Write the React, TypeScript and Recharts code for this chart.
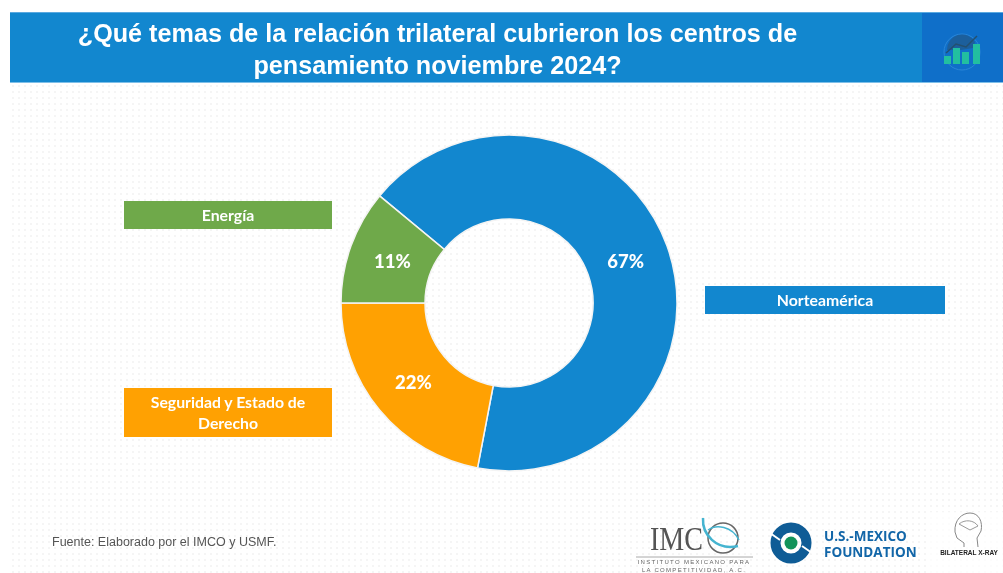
import { PieChart, Pie, Cell } from "recharts";

const categories = ["Norteamérica", "Seguridad y Estado de Derecho", "Energía"];
const shares = [67, 22, 11];
const sliceColors = ["#1287cf", "#ffa102", "#6fa94a"];

const chartData = categories.map((name, i) => ({ name, value: shares[i] }));

const RAD = Math.PI / 180;

function sliceLabel({ cx, cy, midAngle, innerRadius, outerRadius, value }: any) {
  const r = (innerRadius + outerRadius) / 2 - 2;
  return (
    <text
      x={cx + r * Math.cos(-midAngle * RAD)}
      y={cy + r * Math.sin(-midAngle * RAD)}
      fill="#fff"
      textAnchor="middle"
      dominantBaseline="central"
      style={{ fontFamily: "Lato, sans-serif", fontWeight: 900, fontSize: 18.5 }}
    >
      {value}%
    </text>
  );
}

function LabelBox(props: { x: number; y: number; w: number; h: number; color: string; text: string }) {
  return (
    <div
      style={{
        position: "absolute",
        left: props.x,
        top: props.y,
        width: props.w,
        height: props.h,
        background: props.color,
        color: "#fff",
        display: "flex",
        alignItems: "center",
        justifyContent: "center",
        textAlign: "center",
        fontFamily: "Lato, sans-serif",
        fontWeight: 700,
        fontSize: 15.8,
        lineHeight: "21px",
        padding: "0 20px 2px",
        boxSizing: "border-box",
      }}
    >
      {props.text}
    </div>
  );
}

function Logos() {
  return (
    <svg width={1003} height={573} style={{ position: "absolute", left: 0, top: 0 }}>
      {/* small icon in the header */}
      <circle cx={962} cy={52} r={18} fill="none" stroke="#2a86d8" />
      <path d="M947 50 a15 15 0 0 1 28 -8 l-2 6 l-12 2 z" fill="#1c5f9c" />
      <rect x={944} y={56} width={7} height={8} fill="#22bfa0" />
      <rect x={953} y={48} width={7} height={16} fill="#22bfa0" />
      <rect x={962} y={52} width={7} height={12} fill="#22bfa0" />
      <rect x={973} y={44} width={7} height={20} fill="#22bfa0" />
      <path d="M946 53 L956 44 L966 47 L977 36" fill="none" stroke="#24506f" strokeWidth={1.5} />

      {/* IMCO */}
      <text
        x={650}
        y={550}
        fill="#555"
        textLength={53}
        lengthAdjust="spacingAndGlyphs"
        style={{ fontFamily: "Liberation Serif", fontSize: 33 }}
      >
        IMC
      </text>
      <circle cx={723} cy={538} r={15} fill="none" stroke="#666" strokeWidth={1.5} />
      <path d="M703 518 C702 534 716 551 738 546" fill="none" stroke="#45b4d0" strokeWidth={2.5} />
      <path d="M708 530 C716 524 732 526 739 540" fill="none" stroke="#45b4d0" strokeWidth={1.5} />
      <line x1={636} y1={557} x2={753} y2={557} stroke="#aaa" />
      <text x={694} y={564} fill="#666" textAnchor="middle" style={{ fontFamily: "Liberation Sans", fontSize: 6, letterSpacing: 1.3 }}>
        INSTITUTO MEXICANO PARA
      </text>
      <text x={694} y={572} fill="#666" textAnchor="middle" style={{ fontFamily: "Liberation Sans", fontSize: 6, letterSpacing: 1.3 }}>
        LA COMPETITIVIDAD, A.C.
      </text>

      {/* US-Mexico Foundation */}
      <circle cx={791} cy={543} r={15.5} fill="none" stroke="#0f5c96" strokeWidth={10} />
      <circle cx={791} cy={543} r={6.5} fill="#12935a" />
      <path d="M770 533 L780 540 M812 553 L802 546" stroke="#fff" strokeWidth={2} />
      <text x={824} y={541} fill="#1266a8" style={{ fontFamily: "Open Sans", fontWeight: 700, fontSize: 13.5 }}>
        U.S.-MEXICO
      </text>
      <text x={824} y={557} fill="#1266a8" style={{ fontFamily: "Open Sans", fontWeight: 700, fontSize: 13.5 }}>
        FOUNDATION
      </text>

      {/* Bilateral X-Ray */}
      <rect x={926} y={512} width={77} height={61} fill="#fff" opacity={0.7} />
      <path
        d="M955 532 C954 520 962 513 970 513 C979 513 983 522 981 531 L977 538 L978 547 M955 532 L957 538 L964 543 L964 547"
        fill="none"
        stroke="#888"
        strokeWidth={1}
      />
      <path d="M959 524 C965 519 974 520 978 526 L970 530 Z" fill="none" stroke="#999" strokeWidth={1} />
      <text x={969} y={555} fill="#222" textAnchor="middle" style={{ fontFamily: "Liberation Sans", fontWeight: 700, fontSize: 6.5 }}>
        BILATERAL X-RAY
      </text>
    </svg>
  );
}

export default function App() {
  return (
    <div
      style={{
        position: "absolute",
        left: 0,
        top: 0,
        width: 1003,
        height: 573,
        overflow: "hidden",
        background: "#fff",
        filter: "blur(0.45px)",
      }}
    >
      {/* dotted slide background */}
      <div
        style={{
          position: "absolute",
          left: 10,
          top: 83,
          width: 993,
          height: 490,
          backgroundImage: "radial-gradient(#f5f5f5 1.1px, transparent 1.4px)",
          backgroundSize: "6px 6px",
        }}
      />

      {/* header band */}
      <div style={{ position: "absolute", left: 10, top: 12, width: 993, height: 71, background: "#1287cf" }} />
      <div style={{ position: "absolute", left: 922, top: 12, width: 81, height: 71, background: "#0f6fc9" }} />
      <div style={{ position: "absolute", left: 10, top: 12, width: 993, height: 1, background: "#5aa9e0" }} />
      <div style={{ position: "absolute", left: 10, top: 82, width: 993, height: 1, background: "#7fbfe8" }} />
      <div
        style={{
          position: "absolute",
          left: 10,
          top: 17,
          width: 855,
          textAlign: "center",
          color: "#fff",
          fontFamily: "Liberation Sans, Arial, sans-serif",
          fontWeight: 700,
          fontSize: 25.2,
          lineHeight: "32px",
        }}
      >
        ¿Qué temas de la relación trilateral cubrieron los centros de
        <br />
        pensamiento noviembre 2024?
      </div>

      <div style={{ position: "absolute", left: 0, top: 0 }}>
        <PieChart width={1003} height={573} margin={{ top: 0, right: 0, bottom: 0, left: 0 }}>
          <Pie
            data={chartData}
            dataKey="value"
            nameKey="name"
            cx={509}
            cy={303}
            innerRadius={84}
            outerRadius={168}
            startAngle={140.4}
            endAngle={-219.6}
            stroke="#f4f4f4"
            strokeWidth={1.5}
            label={sliceLabel}
            labelLine={false}
            isAnimationActive={false}
          >
            {chartData.map((d, i) => (
              <Cell key={d.name} fill={sliceColors[i]} />
            ))}
          </Pie>
        </PieChart>
      </div>

      <LabelBox x={124} y={201} w={208} h={28} color={sliceColors[2]} text={categories[2]} />
      <LabelBox x={124} y={388} w={208} h={49} color={sliceColors[1]} text={categories[1]} />
      <LabelBox x={705} y={286} w={240} h={28} color={sliceColors[0]} text={categories[0]} />

      <div
        style={{
          position: "absolute",
          left: 52,
          top: 535,
          color: "#555",
          fontFamily: "Liberation Sans, Arial, sans-serif",
          fontSize: 12.5,
        }}
      >
        Fuente: Elaborado por el IMCO y USMF.
      </div>

      <Logos />
    </div>
  );
}
